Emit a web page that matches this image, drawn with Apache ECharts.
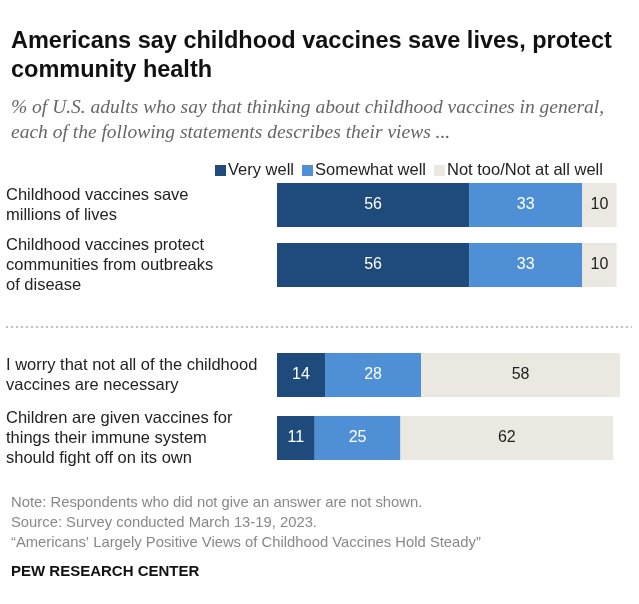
<!DOCTYPE html>
<html><head><meta charset="utf-8">
<script src="https://cdn.jsdelivr.net/npm/echarts@6/dist/echarts.min.js"></script>
<style>body{margin:0;background:#fff}#main{width:639px;height:604px}</style>
</head><body><div id="main"></div>
<script>
let catsTop = ['Childhood vaccines save\nmillions of lives', 'Childhood vaccines protect\ncommunities from outbreaks\nof disease'];
let catsBot = ['I worry that not all of the childhood\nvaccines are necessary', 'Children are given vaccines for\nthings their immune system\nshould fight off on its own'];
let seriesNames = ['Very well', 'Somewhat well', 'Not too/Not at all well'];
let veryTop = [56, 56], someTop = [33, 33], notTop = [10, 10];
let veryBot = [14, 11], someBot = [28, 25], notBot = [58, 62];
let colors = ['#1f4a7c', '#4f8fd6', '#ebe8e2'];

function mk(name, data, idx, gi) {
    return {
        name: name, type: 'bar', stack: 's' + gi, data: data,
        xAxisIndex: gi, yAxisIndex: gi, barWidth: 44,
        itemStyle: { color: colors[idx] },
        label: { show: true, position: 'inside', fontSize: 16, fontFamily: 'Arial',
            color: idx == 2 ? '#222' : '#fff' }
    };
}
let yax = (d, gi) => ({
    type: 'category', data: d, inverse: true, gridIndex: gi,
    axisLine: { show: false }, axisTick: { show: false },
    axisLabel: { align: 'left', margin: 271, fontSize: 16.5, lineHeight: 20,
        color: '#222', fontFamily: 'Arial' }
});
let xax = gi => ({ type: 'value', min: 0, max: 100, show: false, gridIndex: gi });

let myChart = echarts.init(document.getElementById('main'));
myChart.setOption({
    animation: false,
    title: [
        { text: 'Americans say childhood vaccines save lives, protect\ncommunity health', left: 6, top: 22,
          textStyle: { fontSize: 23.5, fontWeight: 'bold', color: '#111', lineHeight: 29, fontFamily: 'Arial' } },
        { text: '% of U.S. adults who say that thinking about childhood vaccines in general,\neach of the following statements describes their views ...', left: 6, top: 90,
          textStyle: { fontSize: 19.5, fontStyle: 'italic', fontWeight: 'normal', color: '#666', lineHeight: 25, fontFamily: 'Georgia, serif' } },
        { text: 'Note: Respondents who did not give an answer are not shown.\nSource: Survey conducted March 13-19, 2023.\n\u201cAmericans\u2019 Largely Positive Views of Childhood Vaccines Hold Steady\u201d', left: 6, top: 488,
          textStyle: { fontSize: 14.8, fontWeight: 'normal', color: '#888', lineHeight: 20, fontFamily: 'Arial' } },
        { text: 'PEW RESEARCH CENTER', left: 6, top: 559,
          textStyle: { fontSize: 15, fontWeight: 'bold', color: '#111', fontFamily: 'Arial' } }
    ],
    legend: { data: seriesNames, top: 157, left: 210, itemWidth: 11, itemHeight: 11, itemGap: 8,
        icon: 'rect', textStyle: { fontSize: 16.5, color: '#222', fontFamily: 'Arial', padding: [0, 0, 0, -3] } },
    grid: [
        { left: 277, right: 19, top: 175, height: 120 },
        { left: 277, right: 19, top: 343.5, height: 126 }
    ],
    xAxis: [xax(0), xax(1)],
    yAxis: [yax(catsTop, 0), yax(catsBot, 1)],
    graphic: [{ type: 'line', shape: { x1: 6, y1: 327, x2: 632, y2: 327 },
        style: { stroke: '#aaa', lineWidth: 1.5, lineDash: [2, 3] } }],
    series: [
        mk(seriesNames[0], veryTop, 0, 0), mk(seriesNames[1], someTop, 1, 0), mk(seriesNames[2], notTop, 2, 0),
        mk(seriesNames[0], veryBot, 0, 1), mk(seriesNames[1], someBot, 1, 1), mk(seriesNames[2], notBot, 2, 1)
    ]
});
</script></body></html>
